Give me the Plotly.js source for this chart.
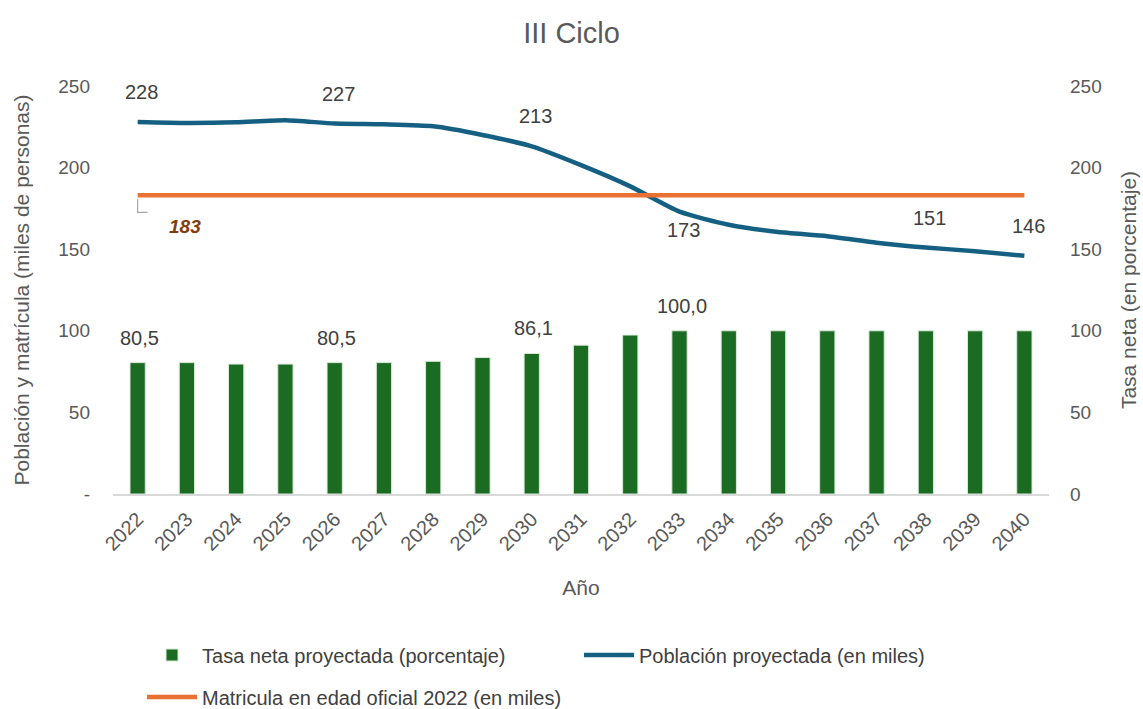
<!DOCTYPE html>
<html><head><meta charset="utf-8">
<script src="https://cdn.plot.ly/plotly-3.0.1.min.js"></script>
<style>body{margin:0;background:#fff}#chart{width:1143px;height:709px}</style>
</head><body><div id="chart"></div>
<script>
const years = ['2022','2023','2024','2025','2026','2027','2028','2029','2030','2031','2032','2033','2034','2035','2036','2037','2038','2039','2040'];
const tasaNeta = [80.5,80.5,79.6,79.6,80.5,80.5,81.3,83.6,86.1,91.2,97.4,100.0,100.0,100.0,100.0,100.0,100.0,100.0,100.0];
const poblacion = [228,227.4,227.8,229,227,226.5,225.3,220,213,201.5,188.5,173,165,160.5,158,154,151,148.8,146];
const matricula2022 = 183;
const matricula = years.map(() => matricula2022);
const popLabelIdx = [0,4,8,11,16,18];
const popLabelBelow = [11];
const tasaLabelIdx = [0,4,8,11];
const yTicks = [0,50,100,150,200,250];
const yTickTextLeft = ['-','50','100','150','200','250'];
const yTickTextRight = ['0','50','100','150','200','250'];

const fmt = v => Math.round(v).toString();
const fmtComma = v => v.toFixed(1).replace('.', ',');

const FONT = 'Liberation Sans, Arial, sans-serif';
const traces = [
  {type:'bar', x:years, y:tasaNeta, yaxis:'y2', name:'Tasa neta proyectada (porcentaje)',
   marker:{color:'#1B6B22', line:{color:'#D9EAD9', width:1}}, width:0.31, legend:'legend'},
  {type:'scatter', mode:'lines', x:years, y:poblacion, name:'Población proyectada (en miles)',
   line:{color:'#156082', width:4.5, shape:'spline', smoothing:0.6}, legend:'legend'},
  {type:'scatter', mode:'lines', x:years, y:matricula, name:'Matricula en edad oficial 2022 (en miles)',
   line:{color:'#E97132', width:4.5}, legend:'legend2'}
];

const annFont = {family:FONT, size:20, color:'#404040'};
const annotations = [];
// category axis: annotation x given as category index
popLabelIdx.forEach(i => {
  const below = popLabelBelow.includes(i);
  annotations.push({x:i, y:poblacion[i], xref:'x', yref:'y', text:fmt(poblacion[i]),
    showarrow:false, font:annFont, xshift:4, yshift: below ? -18 : 30});
});
tasaLabelIdx.forEach(i => {
  annotations.push({x:i, y:tasaNeta[i], xref:'x', yref:'y2', text:fmtComma(tasaNeta[i]),
    showarrow:false, font:annFont, xshift:2, yshift:25});
});
annotations.push({x:0, y:matricula2022, xref:'x', yref:'y', text:'<b><i>'+fmt(matricula2022)+'</i></b>',
  showarrow:false, font:{family:FONT, size:19, color:'#843C0C'},
  xshift:47, yshift:-31});

const shapes = [{type:'path', xref:'x', yref:'y', xsizemode:'pixel', ysizemode:'pixel',
  xanchor:0, yanchor:matricula2022, path:'M0,-4 L0,-17 L10,-17',
  line:{color:'#A6A6A6', width:1.2}}];

const tickFont = {family:FONT, size:19, color:'#595959'};
const xTickFont = {family:FONT, size:20, color:'#595959'};
const titleFont = {family:FONT, size:21, color:'#595959'};
const legFont = {family:FONT, size:20, color:'#404040'};

const layout = {
  width:1143, height:709, paper_bgcolor:'#fff', plot_bgcolor:'#fff',
  margin:{l:113, r:94, t:86, b:215},
  title:{text:'III Ciclo', x:0.5, xanchor:'center', y:0.953, yanchor:'middle',
    font:{family:FONT, size:29, color:'#595959'}},
  hovermode:false, bargap:0.69,
  xaxis:{type:'category', range:[-0.5, years.length-0.5], tickangle:-45, tickfont:xTickFont, showgrid:false, zeroline:false,
    showline:true, linecolor:'#D9D9D9', linewidth:1.5, ticks:'', automargin:false, ticklabelstandoff:4,
    title:{text:'Año', font:titleFont, standoff:26}},
  yaxis:{range:[0,250], tickvals:yTicks, ticktext:yTickTextLeft, tickfont:tickFont, showgrid:false,
    zeroline:false, ticks:'', automargin:false, ticklabelstandoff:22,
    title:{text:'Población y matrícula (miles de personas)', font:titleFont, standoff:22}},
  yaxis2:{range:[0,250], overlaying:'y', side:'right', tickvals:yTicks, ticktext:yTickTextRight,
    tickfont:tickFont, showgrid:false, zeroline:false, layer:'below traces', automargin:false, ticklabelstandoff:20,
    title:{text:'Tasa neta (en porcentaje)', font:titleFont, standoff:20}},
  legend:{orientation:'h', x:0.031, xanchor:'left', yref:'container', y:1-655/709, yanchor:'middle', font:legFont,
    entrywidth:372, entrywidthmode:'pixels', itemwidth:50, bgcolor:'rgba(0,0,0,0)'},
  legend2:{orientation:'h', x:0.031, xanchor:'left', yref:'container', y:1-697/709, yanchor:'middle', font:legFont,
    itemwidth:50, bgcolor:'rgba(0,0,0,0)'},
  annotations:annotations, shapes:shapes, showlegend:true
};

Plotly.newPlot('chart', traces, layout, {displayModeBar:false, staticPlot:true});
</script></body></html>
